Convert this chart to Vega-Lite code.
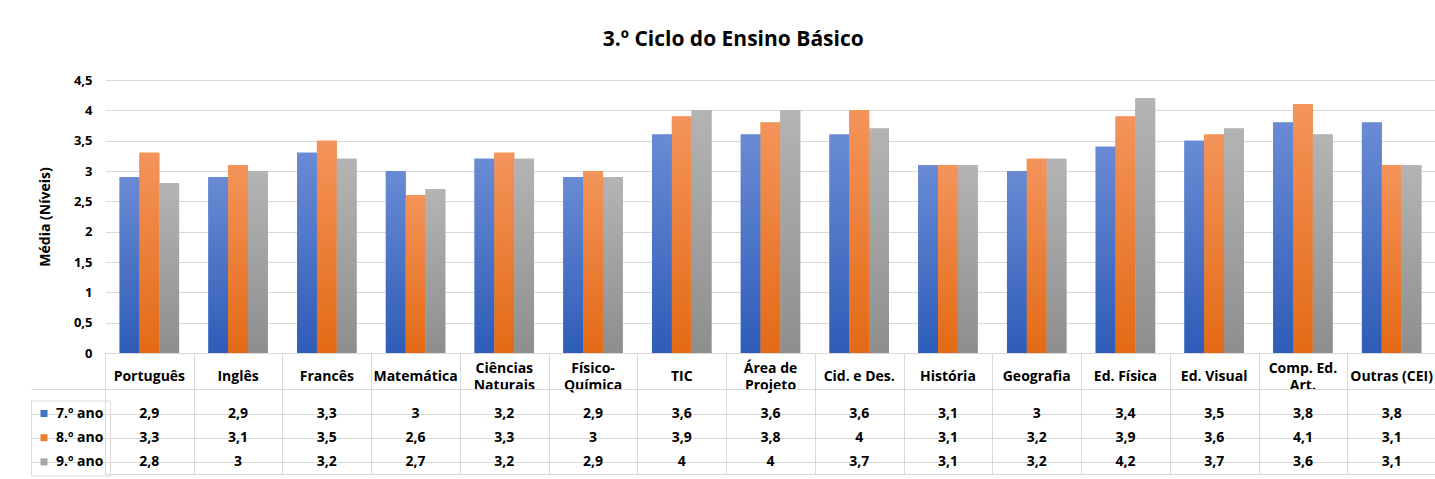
{
  "$schema": "https://vega.github.io/schema/vega-lite/v6.json",
  "background": "white",
  "padding": {"left": 30, "top": 29, "right": 0, "bottom": 1},
  "config": {
    "font": "Open Sans",
    "view": {"stroke": null},
    "locale": {"number": {"decimal": ",", "thousands": ".", "grouping": [3], "currency": ["", " €"]}}
  },
  "title": {"text": "3.º Ciclo do Ensino Básico", "fontSize": 21, "fontWeight": "bold", "color": "#000", "anchor": "middle", "offset": 24, "font": "Open Sans"},
  "datasets": {
    "d": [
      {"cat": "Português", "serie": "7.º ano", "value": 2.9},
      {"cat": "Português", "serie": "8.º ano", "value": 3.3},
      {"cat": "Português", "serie": "9.º ano", "value": 2.8},
      {"cat": "Inglês", "serie": "7.º ano", "value": 2.9},
      {"cat": "Inglês", "serie": "8.º ano", "value": 3.1},
      {"cat": "Inglês", "serie": "9.º ano", "value": 3},
      {"cat": "Francês", "serie": "7.º ano", "value": 3.3},
      {"cat": "Francês", "serie": "8.º ano", "value": 3.5},
      {"cat": "Francês", "serie": "9.º ano", "value": 3.2},
      {"cat": "Matemática", "serie": "7.º ano", "value": 3},
      {"cat": "Matemática", "serie": "8.º ano", "value": 2.6},
      {"cat": "Matemática", "serie": "9.º ano", "value": 2.7},
      {"cat": "Ciências Naturais", "serie": "7.º ano", "value": 3.2},
      {"cat": "Ciências Naturais", "serie": "8.º ano", "value": 3.3},
      {"cat": "Ciências Naturais", "serie": "9.º ano", "value": 3.2},
      {"cat": "Físico-Química", "serie": "7.º ano", "value": 2.9},
      {"cat": "Físico-Química", "serie": "8.º ano", "value": 3},
      {"cat": "Físico-Química", "serie": "9.º ano", "value": 2.9},
      {"cat": "TIC", "serie": "7.º ano", "value": 3.6},
      {"cat": "TIC", "serie": "8.º ano", "value": 3.9},
      {"cat": "TIC", "serie": "9.º ano", "value": 4},
      {"cat": "Área de Projeto", "serie": "7.º ano", "value": 3.6},
      {"cat": "Área de Projeto", "serie": "8.º ano", "value": 3.8},
      {"cat": "Área de Projeto", "serie": "9.º ano", "value": 4},
      {"cat": "Cid. e Des.", "serie": "7.º ano", "value": 3.6},
      {"cat": "Cid. e Des.", "serie": "8.º ano", "value": 4},
      {"cat": "Cid. e Des.", "serie": "9.º ano", "value": 3.7},
      {"cat": "História", "serie": "7.º ano", "value": 3.1},
      {"cat": "História", "serie": "8.º ano", "value": 3.1},
      {"cat": "História", "serie": "9.º ano", "value": 3.1},
      {"cat": "Geografia", "serie": "7.º ano", "value": 3},
      {"cat": "Geografia", "serie": "8.º ano", "value": 3.2},
      {"cat": "Geografia", "serie": "9.º ano", "value": 3.2},
      {"cat": "Ed. Física", "serie": "7.º ano", "value": 3.4},
      {"cat": "Ed. Física", "serie": "8.º ano", "value": 3.9},
      {"cat": "Ed. Física", "serie": "9.º ano", "value": 4.2},
      {"cat": "Ed. Visual", "serie": "7.º ano", "value": 3.5},
      {"cat": "Ed. Visual", "serie": "8.º ano", "value": 3.6},
      {"cat": "Ed. Visual", "serie": "9.º ano", "value": 3.7},
      {"cat": "Comp. Ed. Art.", "serie": "7.º ano", "value": 3.8},
      {"cat": "Comp. Ed. Art.", "serie": "8.º ano", "value": 4.1},
      {"cat": "Comp. Ed. Art.", "serie": "9.º ano", "value": 3.6},
      {"cat": "Outras (CEI)", "serie": "7.º ano", "value": 3.8},
      {"cat": "Outras (CEI)", "serie": "8.º ano", "value": 3.1},
      {"cat": "Outras (CEI)", "serie": "9.º ano", "value": 3.1}
    ]
  },
  "spacing": 0,
  "bounds": "flush",
  "resolve": {"scale": {"x": "independent", "y": "independent"}},
  "vconcat": [
    {
      "width": 1331,
      "height": 273,
      "data": {"name": "d"},
      "encoding": {
        "x": {
          "field": "cat", "type": "nominal",
          "sort": ["Português", "Inglês", "Francês", "Matemática", "Ciências Naturais", "Físico-Química", "TIC", "Área de Projeto", "Cid. e Des.", "História", "Geografia", "Ed. Física", "Ed. Visual", "Comp. Ed. Art.", "Outras (CEI)"],
          "scale": {"paddingInner": 0.33, "paddingOuter": 0.165},
          "axis": {
            "title": null, "domain": false, "ticks": false, "tickSize": 0, "grid": false,
            "labelAngle": 0, "labelPadding": 23, "labelFontSize": 14,
            "labelBaseline": {"condition": {"test": "datum.value == 'Ciências Naturais' || datum.value == 'Físico-Química' || datum.value == 'Área de Projeto' || datum.value == 'Comp. Ed. Art.'", "value": "line-bottom"}, "value": "middle"},
            "labelFontWeight": "bold", "labelColor": "#000", "labelLineHeight": 17, "labelLimit": 0, "labelOverlap": false, "labelBound": false,
            "labelExpr": "datum.value == 'Ciências Naturais' ? ['Ciências', 'Naturais'] : datum.value == 'Físico-Química' ? ['Físico-', 'Química'] : datum.value == 'Área de Projeto' ? ['Área de', 'Projeto'] : datum.value == 'Comp. Ed. Art.' ? ['Comp. Ed.', 'Art.'] : datum.label"
          }
        },
        "xOffset": {"field": "serie", "type": "nominal", "scale": {"domain": ["7.º ano", "8.º ano", "9.º ano"], "paddingInner": 0, "paddingOuter": 0}},
        "y": {
          "field": "value", "type": "quantitative",
          "scale": {"domain": [0, 4.5], "nice": false},
          "axis": {
            "values": [0, 0.5, 1, 1.5, 2, 2.5, 3, 3.5, 4, 4.5], "format": "~g",
            "title": "Média (Níveis)", "titleFontSize": 14, "titleFontWeight": "bold", "titleColor": "#000", "titlePadding": 21,
            "labelFontSize": 13, "labelFontWeight": "bold", "labelColor": "#000", "labelPadding": 13,
            "domain": false, "ticks": false, "gridColor": "#D9D9D9"
          }
        }
      },
      "layer": [
        {
          "mark": {"type": "bar"},
          "encoding": {
            "color": {
              "field": "serie", "type": "nominal",
              "scale": {"domain": ["7.º ano", "8.º ano", "9.º ano"], "range": ["#4472C4", "#ED7D31", "#A5A5A5"]},
              "legend": {
                "title": null, "orient": "none", "legendX": -74, "legendY": 320.5, "direction": "vertical",
                "symbolType": "square", "symbolSize": 49, "symbolStrokeWidth": 0,
                "labelFontSize": 14, "labelFontWeight": "bold", "labelColor": "#000", "labelOffset": 5,
                "labelExpr": "datum.label + ' '",
                "padding": 6, "rowPadding": 10.2, "strokeColor": "#D9D9D9"
              }
            }
          }
        },
        {
          "transform": [{"filter": "datum.serie == '7.º ano'"}],
          "mark": {"type": "bar", "fill": {"gradient": "linear", "x1": 0, "y1": 0, "x2": 0, "y2": 1, "stops": [{"offset": 0, "color": "#6A8BD4"}, {"offset": 1, "color": "#2E5CB8"}]}}
        },
        {
          "transform": [{"filter": "datum.serie == '8.º ano'"}],
          "mark": {"type": "bar", "fill": {"gradient": "linear", "x1": 0, "y1": 0, "x2": 0, "y2": 1, "stops": [{"offset": 0, "color": "#F4945B"}, {"offset": 1, "color": "#E36A15"}]}}
        },
        {
          "transform": [{"filter": "datum.serie == '9.º ano'"}],
          "mark": {"type": "bar", "fill": {"gradient": "linear", "x1": 0, "y1": 0, "x2": 0, "y2": 1, "stops": [{"offset": 0, "color": "#B4B4B4"}, {"offset": 1, "color": "#8E8E8E"}]}}
        }
      ]
    },
    {
      "width": 1331,
      "height": 121,
      "view": {"stroke": "#D9D9D9"},
      "data": {"name": "d"},
      "mark": {"type": "text", "fontSize": 14, "fontWeight": "bold", "color": "#000", "align": "center", "baseline": "middle"},
      "encoding": {
        "x": {
          "field": "cat", "type": "nominal",
          "sort": ["Português", "Inglês", "Francês", "Matemática", "Ciências Naturais", "Físico-Química", "TIC", "Área de Projeto", "Cid. e Des.", "História", "Geografia", "Ed. Física", "Ed. Visual", "Comp. Ed. Art.", "Outras (CEI)"],
          "scale": {"paddingInner": 0, "paddingOuter": 0},
          "axis": {"title": null, "labels": false, "ticks": false, "domain": false, "grid": true, "tickBand": "extent", "gridColor": "#D9D9D9"}
        },
        "y": {
          "field": "serie", "type": "nominal",
          "scale": {"domain": ["h1", "h2", "7.º ano", "8.º ano", "9.º ano"], "paddingInner": 0, "paddingOuter": 0},
          "axis": {"title": null, "labels": false, "values": ["h2", "7.º ano", "8.º ano", "9.º ano"], "bandPosition": 1, "grid": true, "gridColor": "#D9D9D9", "ticks": true, "tickSize": 74, "tickColor": "#D9D9D9", "domain": false}
        },
        "text": {"field": "value", "type": "quantitative", "format": ".1~f"}
      }
    }
  ]
}
